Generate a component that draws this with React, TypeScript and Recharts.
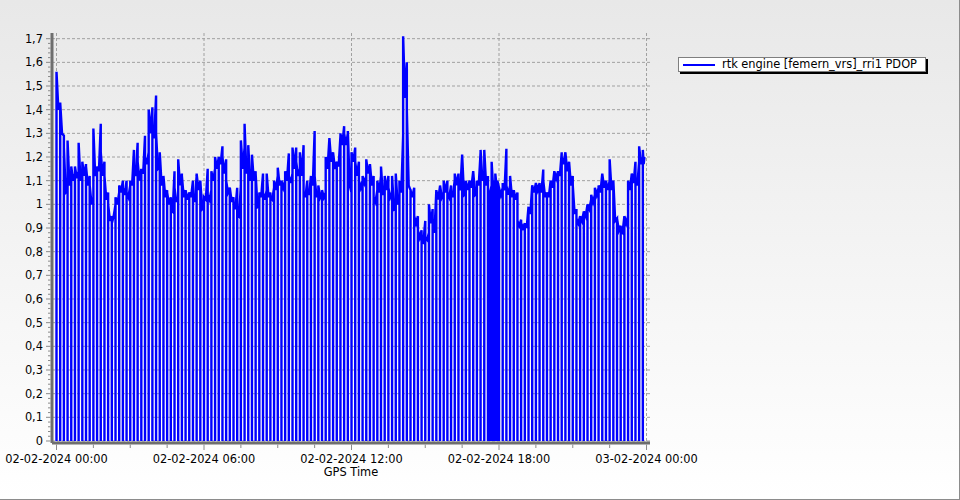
import React from 'react';
import { LineChart, Line, XAxis, YAxis, CartesianGrid, Legend } from 'recharts';

// ---- data ----
const SERIES_NAME = 'rtk engine [femern_vrs]_rri1 PDOP';
const X_TITLE = 'GPS Time';
// receiver logs an outage (PDOP = 0) once per epoch block of this many minutes
const EPOCH_MIN = 9;
const END_MIN = 1435;

const xMajorTicks = [0, 360, 720, 1080, 1440];
const xMajorLabels = [
  '02-02-2024 00:00',
  '02-02-2024 06:00',
  '02-02-2024 12:00',
  '02-02-2024 18:00',
  '03-02-2024 00:00',
];
const xMinorTicks = [90, 180, 270, 450, 540, 630, 810, 900, 990, 1170, 1260, 1350];
const yMajorTicks = [0, 0.1, 0.2, 0.3, 0.4, 0.5, 0.6, 0.7, 0.8, 0.9, 1, 1.1, 1.2, 1.3, 1.4, 1.5, 1.6, 1.7];
const yMinorPerMajor = 4;

// PDOP right after each outage
const pdopAfterGap = [
  1.56, 1.43, 1.24, 1.27, 1.16, 1.16, 1.26, 1.18, 1.16, 1.08,
  1.32, 1.16, 1.22, 1.12, 1.0, 0.92, 1.03, 1.08, 1.07, 1.05,
  1.1, 1.16, 1.18, 1.15, 1.2, 1.4, 1.3, 1.3, 1.22, 1.12,
  1.05, 0.98, 1.07, 1.19, 1.12, 1.06, 1.05, 1.03, 1.13, 1.1,
  1.03, 1.04, 1.14, 1.2, 1.2, 1.2, 1.1, 1.07, 1.0, 0.96,
  1.27, 1.34, 1.25, 1.21, 1.13, 1.05, 1.05, 1.13, 1.03, 1.1,
  1.155, 1.1, 1.14, 1.12, 1.24, 1.18, 1.22, 1.05, 1.06, 1.1,
  1.12, 1.08, 1.06, 1.2, 1.28, 1.22, 1.18, 1.3, 1.3, 1.31,
  1.22, 1.18, 1.1, 1.12, 1.19, 1.17, 1.03, 1.1, 1.16, 1.12,
  1.07, 1.12, 1.13, 1.1, 1.71, 1.4, 1.06, 0.95, 0.89, 0.85,
  0.86, 1.0, 0.9, 1.06, 1.08, 1.1, 1.05, 1.05, 1.13, 1.08,
  1.21, 1.1, 1.1, 1.14, 1.1, 1.23, 1.23, 1.05, 1.18, 1.13,
  1.07, 1.09, 1.08, 1.12, 1.06, 0.93, 0.92, 0.92, 0.98, 1.08,
  1.09, 1.07, 1.1, 1.05, 1.1, 1.14, 1.14, 1.2, 1.22, 1.18,
  1.08, 0.94, 0.95, 0.97, 1.0, 1.04, 1.07, 1.08, 1.13, 1.1,
  1.19, 1.1, 0.94, 0.89, 0.95, 1.1, 1.13, 1.1, 1.245, 1.23,
];
// lowest PDOP in the middle of each epoch block
const pdopMid = [
  1.4, 1.3, 1.05, 1.08, 1.1, 1.11, 1.1, 1.12, 1.08, 1.0,
  1.12, 1.14, 1.12, 1.02, 0.93, 0.95, 1.0, 1.05, 1.04, 1.03,
  1.08, 1.12, 1.1, 1.13, 1.17, 1.3, 1.28, 1.15, 1.08, 1.03,
  1.0, 0.97, 1.01, 1.08, 1.03, 1.02, 1.03, 1.01, 1.06, 0.98,
  1.02, 1.02, 1.1, 1.15, 1.17, 1.13, 1.05, 1.01, 0.98, 0.95,
  1.15, 1.13, 1.1, 1.1, 0.99, 1.03, 1.02, 1.03, 1.02, 1.06,
  1.08, 1.07, 1.1, 1.09, 1.15, 1.12, 1.12, 1.03, 1.04, 1.08,
  1.03, 1.03, 1.03, 1.15, 1.18, 1.15, 1.16, 1.25, 1.25, 1.08,
  1.18, 1.12, 1.07, 1.09, 1.13, 1.08, 1.01, 1.05, 1.04, 1.06,
  1.03, 0.98, 1.0, 1.05, 1.45, 1.08, 1.03, 0.92, 0.86, 0.84,
  0.85, 0.92, 0.88, 1.02, 1.03, 1.05, 1.03, 1.03, 1.08, 1.06,
  1.04, 1.06, 1.07, 1.04, 1.08, 1.1, 1.08, 1.02, 1.04, 1.05,
  1.04, 1.06, 1.04, 1.03, 1.02, 0.91, 0.9, 0.9, 0.96, 1.05,
  1.06, 1.05, 1.03, 1.03, 1.07, 1.11, 1.12, 1.17, 1.14, 1.08,
  0.96, 0.92, 0.93, 0.95, 0.98, 1.01, 1.04, 1.05, 1.07, 1.06,
  1.06, 0.93, 0.89, 0.88, 0.92, 1.06, 1.09, 1.08, 1.17, 1.17,
];
// PDOP right before the next outage
const pdopBeforeGap = [
  1.43, 1.29, 1.06, 1.12, 1.13, 1.14, 1.13, 1.17, 1.12, 1.03,
  1.15, 1.34, 1.18, 1.05, 0.95, 1.0, 1.05, 1.1, 1.1, 1.08,
  1.23, 1.26, 1.15, 1.29, 1.22, 1.41, 1.46, 1.16, 1.1, 1.06,
  1.03, 1.14, 1.03, 1.13, 1.06, 1.05, 1.1, 1.12, 1.1, 0.99,
  1.15, 1.06, 1.15, 1.2, 1.245, 1.19, 1.07, 1.03, 1.07, 1.08,
  1.24, 1.15, 1.12, 1.14, 1.0, 1.13, 1.06, 1.05, 1.07, 1.12,
  1.1, 1.1, 1.215, 1.13, 1.24, 1.15, 1.25, 1.1, 1.12, 1.31,
  1.05, 1.05, 1.05, 1.28, 1.22, 1.18, 1.29, 1.33, 1.3, 1.05,
  1.24, 1.18, 1.1, 1.12, 1.17, 1.12, 1.06, 1.12, 1.06, 1.12,
  1.05, 0.99, 1.02, 1.29, 1.6, 1.06, 1.07, 0.95, 0.89, 0.93,
  0.88, 0.98, 1.06, 1.077, 1.05, 1.1, 1.08, 1.105, 1.13, 1.21,
  1.05, 1.1, 1.14, 1.05, 1.22, 1.13, 1.12, 1.08, 1.08, 1.07,
  1.07, 1.235, 1.08, 1.06, 1.05, 0.935, 0.92, 0.99, 1.08, 1.09,
  1.09, 1.147, 1.05, 1.1, 1.14, 1.14, 1.22, 1.22, 1.18, 1.12,
  0.98, 0.95, 0.97, 1.0, 1.02, 1.04, 1.07, 1.13, 1.1, 1.1,
  1.1, 0.94, 0.91, 0.95, 0.95, 1.13, 1.18, 1.18, 1.2, 1.2,
];
// additional outages in the burst around 18:00
const extraGapMinutes = [1058, 1067, 1076];
const extraGapPdop = [1.05, 1.1, 1.1];

// ---- build table for the library ----
type Row = { t: number; pdop: number };
const rows: Row[] = [];
for (let k = 0; k < pdopAfterGap.length; k++) {
  const t0 = k * EPOCH_MIN;
  const t1 = k === pdopAfterGap.length - 1 ? END_MIN : t0 + EPOCH_MIN;
  rows.push({ t: t0, pdop: 0 }, { t: t0, pdop: pdopAfterGap[k] });
  const inner: Row[][] = [[{ t: (t0 + t1) / 2, pdop: pdopMid[k] }]];
  extraGapMinutes.forEach((tm, i) => {
    if (tm > t0 && tm < t1) {
      inner.push([{ t: tm, pdop: extraGapPdop[i] }, { t: tm, pdop: 0 }, { t: tm, pdop: extraGapPdop[i] }]);
    }
  });
  inner.sort((p, q) => p[0].t - q[0].t).forEach((grp) => rows.push(...grp));
  rows.push({ t: t1, pdop: pdopBeforeGap[k] });
}

const xAllTicks = [...xMajorTicks, ...xMinorTicks].sort((a, b) => a - b);
const yAllTicks: number[] = [];
yMajorTicks.forEach((v, i) => {
  yAllTicks.push(v);
  if (i < yMajorTicks.length - 1) {
    const step = (yMajorTicks[i + 1] - v) / (yMinorPerMajor + 1);
    for (let j = 1; j <= yMinorPerMajor; j++) yAllTicks.push(Math.round((v + j * step) * 1000) / 1000);
  }
});

const FONT = '"DejaVu Sans", Verdana, sans-serif';
const FS = 11.4;
const AXIS = '#6e6e6e';

const isYMajor = (v: number) => Math.abs(v * 10 - Math.round(v * 10)) < 1e-6;
const fmtY = (v: number) => (Number.isInteger(Math.round(v * 1000) / 1000) ? String(Math.round(v)) : v.toFixed(1).replace('.', ','));

const YTick = (props: any) => {
  const { x, y, payload } = props;
  const v = payload.value as number;
  const major = isYMajor(v);
  return (
    <g>
      <line x1={x - (major ? 6 : 4)} x2={x - 1.5} y1={y} y2={y} stroke="#8a8a8a" strokeWidth={1} />
      {major && (
        <text x={x - 9} y={y} dy={4} textAnchor="end" fontFamily={FONT} fontSize={FS} fill="#000">
          {fmtY(v)}
        </text>
      )}
    </g>
  );
};

const XTick = (props: any) => {
  const { x, y, payload } = props;
  const v = payload.value as number;
  const idx = xMajorTicks.indexOf(v);
  const major = idx >= 0;
  return (
    <g>
      <line x1={x} x2={x} y1={y + 1.5} y2={y + (major ? 7 : 5)} stroke="#8a8a8a" strokeWidth={1} />
      {major && (
        <text x={x} y={y + 20} textAnchor="middle" fontFamily={FONT} fontSize={FS} fill="#000">
          {xMajorLabels[idx]}
        </text>
      )}
    </g>
  );
};

const LegendBox = () => (
  <div
    style={{
      position: 'relative',
      width: 248,
      height: 15,
      boxSizing: 'border-box',
      background: '#fff',
      border: '1px solid #7f7f7f',
      boxShadow: '2px 2px 0 #000',
      fontFamily: FONT,
      fontSize: FS,
      color: '#000',
      whiteSpace: 'nowrap',
    }}
  >
    <div style={{ position: 'absolute', left: 4, top: 5.5, width: 32, height: 2.5, background: '#0000ff' }} />
    <div style={{ position: 'absolute', left: 43, top: 0, lineHeight: '13px' }}>{SERIES_NAME}</div>
  </div>
);

export default function App() {
  return (
    <div
      style={{
        position: 'absolute',
        left: 0,
        top: 0,
        width: 960,
        height: 500,
        boxSizing: 'border-box',
        background: 'linear-gradient(#e8e8e8, #ffffff)',
        borderRight: '1px solid #8c8c8c',
        borderBottom: '1px solid #8c8c8c',
        overflow: 'hidden',
      }}
    >
      <LineChart width={960} height={500} data={rows} margin={{ top: 33, right: 310, bottom: 0, left: 0 }}>
        <CartesianGrid
          stroke="#a0a0a0"
          strokeDasharray="3 2"
          horizontalValues={yMajorTicks}
          verticalValues={xMajorTicks}
        />
        <XAxis
          type="number"
          dataKey="t"
          domain={[-11, 1448.5]}
          allowDataOverflow
          ticks={xAllTicks}
          interval={0}
          tickLine={false}
          tickSize={0}
          tickMargin={0}
          height={57}
          axisLine={{ stroke: AXIS, strokeWidth: 3 }}
          tick={(p: any) => <XTick {...p} />}
          label={{ value: X_TITLE, position: 'insideTop', offset: 25, fontFamily: FONT, fontSize: FS, fill: '#000' }}
        />
        <YAxis
          type="number"
          domain={[-0.0085, 1.724]}
          allowDataOverflow
          ticks={yAllTicks}
          interval={0}
          width={52}
          tickLine={false}
          tickSize={0}
          tickMargin={0}
          axisLine={{ stroke: AXIS, strokeWidth: 3 }}
          tick={(p: any) => <YTick {...p} />}
        />
        <Legend
          layout="vertical"
          align="center"
          verticalAlign="middle"
          wrapperStyle={{ left: 678, top: 57, width: 252 }}
          content={() => <LegendBox />}
        />
        <Line
          type="linear"
          dataKey="pdop"
          name={SERIES_NAME}
          stroke="#0000ff"
          strokeWidth={2.4}
          dot={false}
          activeDot={false}
          isAnimationActive={false}
        />
      </LineChart>
    </div>
  );
}
